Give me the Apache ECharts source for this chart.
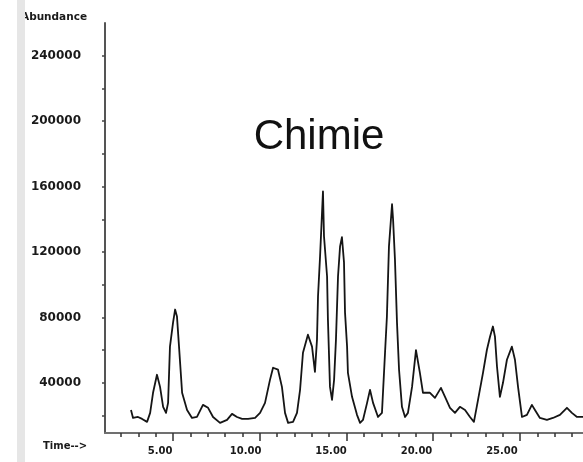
<!DOCTYPE html>
<html>
<head>
<meta charset="utf-8">
<title>Chimie</title>
<script src="https://cdn.jsdelivr.net/npm/echarts@6/dist/echarts.min.js"></script>
<style>
  html, body { margin: 0; padding: 0; background: #ffffff; }
  #chart { width: 583px; height: 462px; }
</style>
</head>
<body>
<div id="chart"></div>
<script>
// Retention time (min) of each sampled point of the chromatogram trace
const times = [
  3.30, 3.42, 3.71, 3.95, 4.24, 4.42, 4.59, 4.82, 5.00, 5.18, 5.35, 5.47,
  5.58, 5.76, 5.88, 5.99, 6.11, 6.29, 6.58, 6.87, 7.16, 7.51, 7.81, 8.10,
  8.51, 8.92, 9.21, 9.50, 9.80, 10.15, 10.56, 10.85, 11.14, 11.43, 11.61, 11.90,
  12.13, 12.31, 12.49, 12.78, 13.01, 13.19, 13.36, 13.65, 13.89, 14.06, 14.18, 14.24,
  14.36, 14.53, 14.59, 14.77, 14.82, 14.94, 15.06, 15.18, 15.29, 15.41, 15.53, 15.64,
  15.76, 15.82, 15.94, 15.99, 16.23, 16.52, 16.70, 16.87, 17.11, 17.28, 17.46, 17.75,
  17.98, 18.16, 18.27, 18.39, 18.57, 18.63, 18.74, 18.86, 18.98, 19.15, 19.33, 19.50,
  19.74, 19.97, 20.20, 20.38, 20.50, 20.79, 21.08, 21.43, 21.67, 21.96, 22.25, 22.54,
  22.84, 23.13, 23.36, 23.60, 23.89, 24.12, 24.30, 24.47, 24.59, 24.71, 24.88, 25.06,
  25.29, 25.58, 25.76, 25.94, 26.17, 26.46, 26.75, 26.93, 27.22, 27.63, 27.98, 28.39,
  28.80, 29.09, 29.39, 29.74
];

// Abundance at each of those times
const abundance = [
  23400, 18500, 19100, 17900, 16100, 21600, 33900, 44900, 37500, 25300, 21600, 27700,
  62100, 76800, 84800, 80500, 62100, 33900, 23400, 18500, 19100, 26500, 24700, 19100,
  15500, 17300, 21000, 19100, 17900, 17900, 18500, 21600, 27700, 41800, 49200, 48000,
  37500, 21600, 15500, 16100, 21600, 35700, 58400, 69400, 62100, 46700, 66400, 92800,
  117300, 157000, 129600, 105000, 78700, 37500, 29600, 41800, 66400, 105000, 123400, 129000,
  113600, 82900, 62100, 46100, 31400, 20400, 15500, 17300, 27700, 35700, 27700, 19100,
  21600, 58400, 80500, 123400, 149200, 140000, 115500, 76800, 48000, 25300, 19100, 21600,
  37500, 60000, 46100, 33900, 33900, 33900, 30800, 36900, 31400, 24700, 21600, 25300,
  23400, 19100, 16100, 29600, 46100, 60200, 68200, 74400, 68200, 49800, 31400, 40000,
  54100, 62100, 54100, 37500, 19100, 20400, 26500, 23400, 18500, 17300, 18500, 20400,
  24700, 21600, 19100, 19100
];

// Axis annotations
const timeLabels = [5, 10, 15, 20, 25];
const timeMinorTicks = [
  2.72, 3.73, 4.75, 6.77, 7.79, 8.80, 9.82, 11.85, 12.86, 13.88, 14.89,
  16.92, 17.94, 18.95, 19.97, 22.00, 23.01, 24.03, 25.04, 27.07, 28.08, 29.10
];
const timeMajorTicks = [5.76, 10.83, 15.91, 20.98, 26.05];
const abundanceLabels = [40000, 80000, 120000, 160000, 200000, 240000];
const abundanceTicks = [20000, 40000, 60000, 80000, 100000, 120000, 140000, 160000, 180000, 200000, 220000, 240000];

const trace = times.map((t, i) => [t, abundance[i]]);

const labelFont = 'DejaVu Sans';
const chart = echarts.init(document.getElementById('chart'), null, { renderer: 'canvas' });

chart.setOption({
  animation: false,
  backgroundColor: '#ffffff',
  title: {
    text: 'Chimie',
    left: 314,
    top: 111,
    textAlign: 'center',
    textStyle: {
      fontFamily: 'Liberation Sans',
      fontSize: 42,
      fontWeight: 'normal',
      color: '#111111'
    }
  },
  grid: { left: 105, right: 0, top: 23, bottom: 29, containLabel: false },
  xAxis: [
    {
      type: 'value',
      min: 1.78,
      max: 29.74,
      position: 'bottom',
      axisLine: { show: true, lineStyle: { color: '#707070', width: 2 } },
      axisTick: {
        show: true,
        customValues: timeMinorTicks,
        length: 4,
        lineStyle: { color: '#333333', width: 1.5 }
      },
      axisLabel: {
        customValues: timeLabels,
        margin: 13,
        formatter: v => v.toFixed(2),
        fontFamily: labelFont,
        fontWeight: 'bold',
        fontSize: 10,
        color: '#1a1a1a'
      },
      splitLine: { show: false }
    },
    {
      type: 'value',
      min: 1.78,
      max: 29.74,
      position: 'bottom',
      axisLine: { show: false },
      axisTick: {
        show: true,
        customValues: timeMajorTicks,
        length: 8,
        lineStyle: { color: '#333333', width: 1.5 }
      },
      axisLabel: { show: false },
      splitLine: { show: false }
    }
  ],
  yAxis: {
    type: 'value',
    min: 9300,
    max: 260000,
    axisLine: { show: true, lineStyle: { color: '#555555', width: 2 } },
    axisTick: {
      show: true,
      customValues: abundanceTicks,
      length: 3,
      lineStyle: { color: '#444444', width: 1.5 }
    },
    axisLabel: {
      customValues: abundanceLabels,
      margin: 24,
      formatter: v => String(v),
      fontFamily: labelFont,
      fontWeight: 'bold',
      fontSize: 12,
      color: '#1a1a1a'
    },
    splitLine: { show: false }
  },
  graphic: [
    {
      type: 'text',
      left: 21,
      top: 12,
      style: {
        text: 'Abundance',
        fontFamily: labelFont,
        fontWeight: 'bold',
        fontSize: 10.5,
        fill: '#1a1a1a'
      }
    },
    {
      type: 'text',
      left: 43,
      top: 441,
      style: {
        text: 'Time-->',
        fontFamily: labelFont,
        fontWeight: 'bold',
        fontSize: 10,
        fill: '#1a1a1a'
      }
    },
    {
      // light margin strip along the left edge
      type: 'rect',
      left: 17,
      top: 0,
      z: 100,
      shape: { width: 8, height: 462 },
      style: { fill: '#e6e6e6' }
    }
  ],
  series: [
    {
      type: 'line',
      xAxisIndex: 0,
      data: trace,
      showSymbol: false,
      smooth: false,
      lineStyle: { color: '#151515', width: 1.8, join: 'round' },
      silent: true
    }
  ]
});
</script>
</body>
</html>
